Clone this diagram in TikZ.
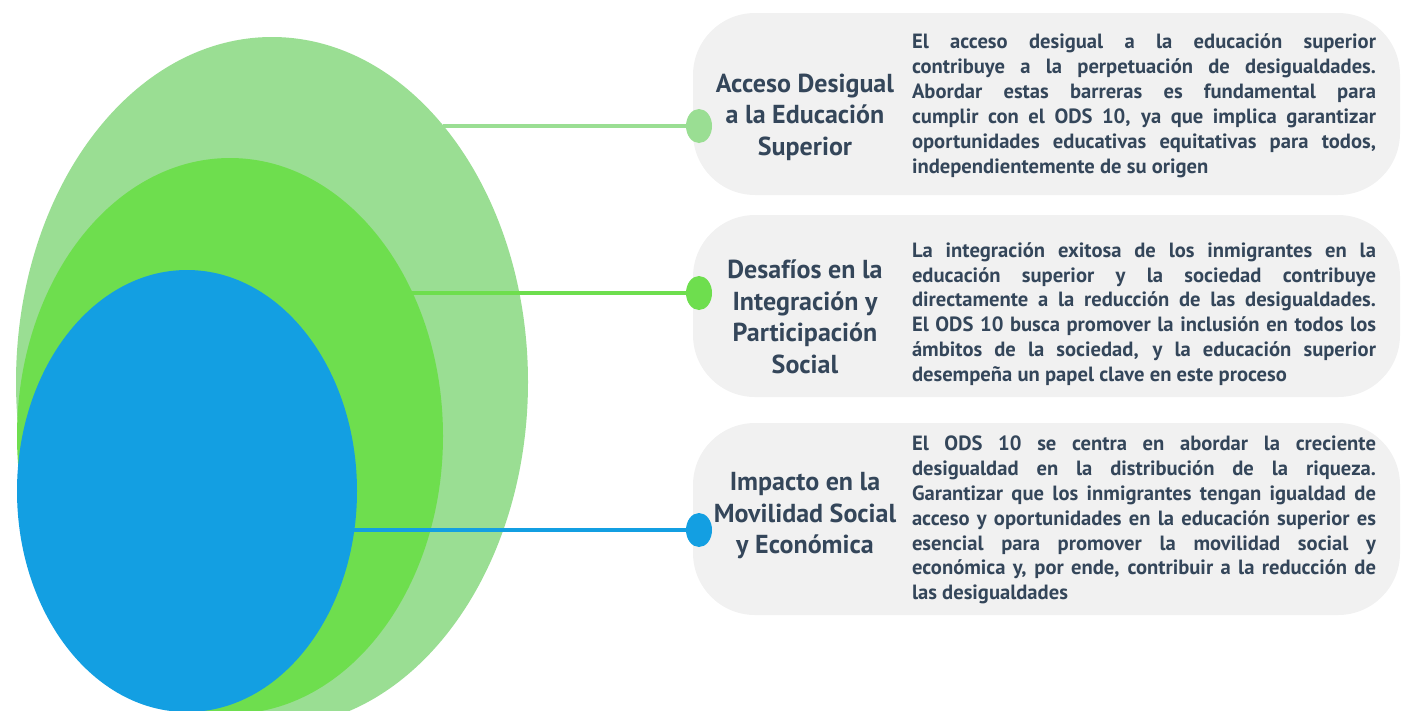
\documentclass[tikz,border=0pt]{standalone}
\usepackage{fontspec}
\setmainfont{PT Sans}
\usetikzlibrary{shapes.geometric}
\definecolor{lgreen}{HTML}{9ADE93}
\definecolor{mgreen}{HTML}{6EDE4E}
\definecolor{cblue}{HTML}{139FE2}
\definecolor{boxgray}{HTML}{F1F1F1}
\definecolor{txt}{HTML}{34465A}
\tikzset{
  oval/.style={ellipse, draw=none, inner sep=0pt},
  dotnode/.style={ellipse, draw=none, inner sep=0pt, minimum width=26pt, minimum height=34pt},
  conn/.style={line width=3.5pt},
  panel/.style={fill=boxgray, draw=none, rounded corners=62pt},
  heading/.style={font=\fontsize{26}{31.5}\selectfont\bfseries, text=txt, align=center, inner sep=0pt},
  body/.style={font=\fontsize{20.6}{24.9}\selectfont\bfseries, text=txt, text width=464pt, align=justify, inner sep=0pt},
}
\begin{document}
\begin{tikzpicture}[x=1pt,y=-1pt]
\useasboundingbox (0,0) rectangle (1402,710);
\begin{scope}
\clip (0,0) rectangle (1402,710);
% panels
\path[panel] (693,13) rectangle (1400,195);
\path[panel] (693,215) rectangle (1400,397);
\path[panel] (693,423) rectangle (1400,615);
% ellipses
\node[oval, fill=lgreen, minimum width=512pt, minimum height=690pt] (e1) at (272,382) {};
\node[oval, fill=mgreen, minimum width=426pt, minimum height=556pt] (e2) at (230,436) {};
\node[oval, fill=cblue, minimum width=340pt, minimum height=442pt] (e3) at (187,491) {};
\end{scope}
% dots
\node[dotnode, fill=lgreen] (d1) at (699,126) {};
\node[dotnode, fill=mgreen] (d2) at (699,293) {};
\node[dotnode, fill=cblue] (d3) at (699,530) {};
% connector starts on ellipse boundaries
\coordinate (s1) at (443,126);
\coordinate (s2) at (412,293);
\coordinate (s3) at (353,530);
\draw[conn, lgreen] (s1) -- (d1);
\draw[conn, mgreen] (s2) -- (d2);
\draw[conn, cblue] (s3) -- (d3);
% headings
\node[heading] (h1) at (805,117) {Acceso Desigual\\a la Educación\\Superior};
\node[heading] (h2) at (805,317) {Desafíos en la\\Integración y\\Participación\\Social};
\node[heading] (h3) at (805,516) {Impacto en la\\Movilidad Social\\y Económica};
% bodies
\node[body] (b1) at (1144,106) {\hyphenpenalty=10000 El acceso desigual a la educación superior\linebreak contribuye a la perpetuación de desigualdades.\linebreak Abordar estas barreras es fundamental para\linebreak cumplir con el ODS 10, ya que implica garantizar\linebreak oportunidades educativas equitativas para todos,\linebreak independientemente de su origen};
\node[body] (b2) at (1144,314) {\hyphenpenalty=10000 La integración exitosa de los inmigrantes en la\linebreak educación superior y la sociedad contribuye\linebreak directamente a la reducción de las desigualdades.\linebreak El ODS 10 busca promover la inclusión en todos los\linebreak ámbitos de la sociedad, y la educación superior\linebreak desempeña un papel clave en este proceso};
\node[body] (b3) at (1144,520) {\hyphenpenalty=10000 El ODS 10 se centra en abordar la creciente\linebreak desigualdad en la distribución de la riqueza.\linebreak Garantizar que los inmigrantes tengan igualdad de\linebreak acceso y oportunidades en la educación superior es\linebreak esencial para promover la movilidad social y\linebreak económica y, por ende, contribuir a la reducción de\linebreak las desigualdades};
\end{tikzpicture}
\end{document}
